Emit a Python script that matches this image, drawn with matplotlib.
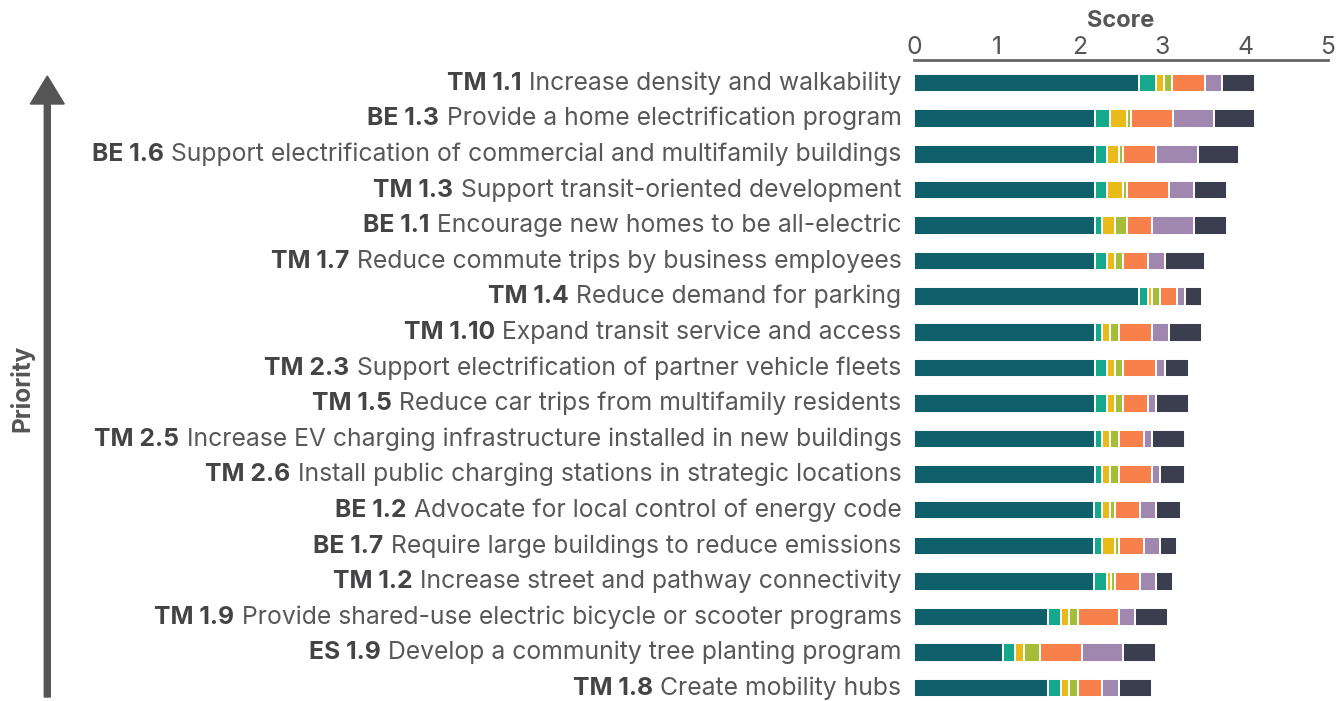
import matplotlib.pyplot as plt
import numpy as np
from matplotlib.patches import FancyArrow

plt.rcParams['font.family'] = ['Inter', 'DejaVu Sans']

codes = ["TM 1.1", "BE 1.3", "BE 1.6", "TM 1.3", "BE 1.1", "TM 1.7", "TM 1.4", "TM 1.10",
         "TM 2.3", "TM 1.5", "TM 2.5", "TM 2.6", "BE 1.2", "BE 1.7", "TM 1.2", "TM 1.9",
         "ES 1.9", "TM 1.8"]
descs = ["Increase density and walkability",
         "Provide a home electrification program",
         "Support electrification of commercial and multifamily buildings",
         "Support transit-oriented development",
         "Encourage new homes to be all-electric",
         "Reduce commute trips by business employees",
         "Reduce demand for parking",
         "Expand transit service and access",
         "Support electrification of partner vehicle fleets",
         "Reduce car trips from multifamily residents",
         "Increase EV charging infrastructure installed in new buildings",
         "Install public charging stations in strategic locations",
         "Advocate for local control of energy code",
         "Require large buildings to reduce emissions",
         "Increase street and pathway connectivity",
         "Provide shared-use electric bicycle or scooter programs",
         "Develop a community tree planting program",
         "Create mobility hubs"]

# stacked score components
dark_teal = [2.72, 2.18, 2.18, 2.18, 2.18, 2.18, 2.72, 2.18, 2.18, 2.18, 2.18, 2.18, 2.17, 2.17, 2.17, 1.62, 1.08, 1.62]
teal      = [0.20, 0.19, 0.15, 0.15, 0.09, 0.15, 0.11, 0.09, 0.15, 0.15, 0.09, 0.09, 0.10, 0.10, 0.16, 0.16, 0.14, 0.16]
yellow    = [0.10, 0.20, 0.15, 0.19, 0.16, 0.10, 0.04, 0.10, 0.10, 0.10, 0.10, 0.10, 0.10, 0.16, 0.05, 0.09, 0.11, 0.09]
green     = [0.10, 0.05, 0.04, 0.05, 0.14, 0.09, 0.10, 0.11, 0.09, 0.09, 0.11, 0.11, 0.06, 0.05, 0.05, 0.11, 0.19, 0.11]
orange    = [0.39, 0.51, 0.40, 0.51, 0.30, 0.31, 0.21, 0.39, 0.40, 0.31, 0.30, 0.39, 0.30, 0.30, 0.30, 0.50, 0.51, 0.29]
purple    = [0.21, 0.49, 0.51, 0.30, 0.51, 0.20, 0.09, 0.21, 0.11, 0.09, 0.09, 0.10, 0.19, 0.19, 0.19, 0.19, 0.49, 0.21]
navy      = [0.40, 0.50, 0.49, 0.40, 0.40, 0.48, 0.21, 0.40, 0.29, 0.40, 0.40, 0.30, 0.30, 0.21, 0.21, 0.40, 0.40, 0.39]

colors = ["#10606c", "#14a88c", "#e9bb1a", "#a5bd38", "#f8804a", "#a087b0", "#3a3e4f"]
text_col = "#58585a"
bold_col = "#444446"
fs = 17.8

fig = plt.figure(figsize=(13.44, 7.01), dpi=100)
ax = fig.add_axes([914 / 1344, 0, 414 / 1344, 641 / 701])

y = np.arange(len(codes))
left = np.zeros(len(codes))
for vals, c in zip([dark_teal, teal, yellow, green, orange, purple, navy], colors):
    ax.barh(y, vals, left=left, height=0.52, color=c, edgecolor="white", linewidth=1.4)
    left += np.array(vals)

ax.set_xlim(0, 5)
ax.set_ylim(17.36, -0.65)
ax.xaxis.tick_top()
ax.xaxis.set_label_position("top")
ax.set_xticks(range(6))
ax.tick_params(axis="x", length=0, pad=0.5, labelsize=fs, labelcolor="#555555")
ax.set_xlabel("Score", fontsize=17, fontweight="bold", color="#555555", labelpad=7)
ax.set_yticks([])
for s in ["bottom", "left", "right"]:
    ax.spines[s].set_visible(False)
ax.spines["top"].set_color("#666666")
ax.spines["top"].set_linewidth(2)

for i, (code, desc) in enumerate(zip(codes, descs)):
    t = ax.annotate(desc, xy=(0, i), xycoords=("axes fraction", "data"),
                    xytext=(-9, 0), textcoords="offset points",
                    ha="right", va="center", fontsize=fs, color=text_col)
    ax.annotate(code, xy=(0, 0), xycoords=t, xytext=(-5.5, 0), textcoords="offset points",
                ha="right", va="bottom", fontsize=fs, fontweight="bold", color=bold_col)

arrow = FancyArrow(0.473, 0.04, 0, 6.21, width=0.06, head_width=0.34, head_length=0.28,
                   length_includes_head=True, color="#555555", transform=fig.dpi_scale_trans)
fig.add_artist(arrow)
fig.text(22 / 1344, 1 - 388 / 701, "Priority", rotation=90, ha="center", va="center",
         fontsize=17.5, fontweight="bold", color="#555555")

fig.savefig("out.png", dpi=100)
